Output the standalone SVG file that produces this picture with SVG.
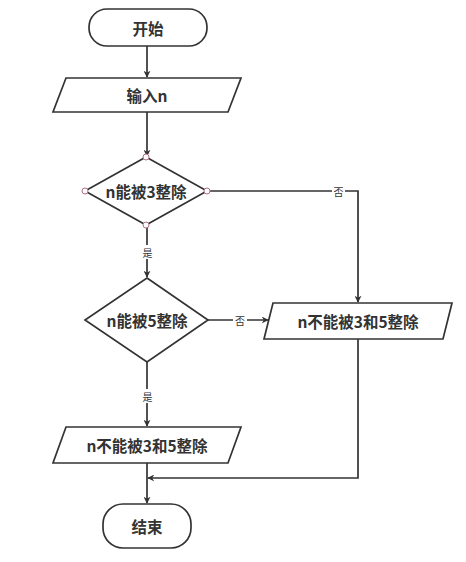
<svg xmlns="http://www.w3.org/2000/svg" width="466" height="562" viewBox="0 0 466 562">
<style>
.s{fill:#fff;stroke:#333;stroke-width:1.7}
.t{font-family:"Noto Sans CJK SC","Noto Sans",sans-serif;font-size:15.5px;font-weight:bold;fill:#333;text-anchor:middle;dominant-baseline:central}
.l{font-family:"Noto Sans CJK SC",sans-serif;font-size:10px;fill:#333;text-anchor:middle;dominant-baseline:central}
.c{fill:none;stroke:#333;stroke-width:1.7}
.p{fill:#fff;stroke:#b07080;stroke-width:1}
</style>
<defs>
<marker id="a" viewBox="0 0 10 10" refX="9" refY="5" markerWidth="7" markerHeight="7" markerUnits="userSpaceOnUse" orient="auto"><path d="M0,0 L10,5 L0,10 L3,5 Z" fill="#333"/></marker>
</defs>
<rect width="466" height="562" fill="#fff"/>
<g id="connectors">
<line class="c" x1="147" y1="46" x2="147" y2="77" marker-end="url(#a)"/>
<line class="c" x1="147" y1="112" x2="147" y2="156" marker-end="url(#a)"/>
<polyline class="c" points="207,191 358,191 358,302" marker-end="url(#a)"/>
<line class="c" x1="147" y1="225" x2="147" y2="277" marker-end="url(#a)"/>
<line class="c" x1="208" y1="320" x2="268" y2="320" marker-end="url(#a)"/>
<line class="c" x1="147" y1="362" x2="147" y2="426" marker-end="url(#a)"/>
<line class="c" x1="147" y1="463" x2="147" y2="503" marker-end="url(#a)"/>
<polyline class="c" points="358,339 358,478 148,478" marker-end="url(#a)"/>
<rect x="332" y="184" width="13" height="14" fill="#fff"/>
<text class="l" x="338.5" y="191">否</text>
<rect x="141" y="245" width="13" height="14" fill="#fff"/>
<text class="l" x="147.5" y="252">是</text>
<rect x="233" y="313" width="14" height="14" fill="#fff"/>
<text class="l" x="240" y="320">否</text>
<rect x="141" y="389" width="13" height="14" fill="#fff"/>
<text class="l" x="147.5" y="396">是</text>
</g>
<g id="start">
<rect class="s" x="89" y="9" width="118" height="37" rx="18" ry="18"/>
<text class="t" x="148" y="27.5">开始</text>
</g>
<g id="input">
<polygon class="s" points="66,78 241,78 228,112 53,112"/>
<text class="t" x="147" y="95">输入n</text>
</g>
<g id="d1">
<polygon class="s" points="146,157 207,191 146,225 85,191"/>
<text class="t" x="146" y="191">n能被3整除</text>
<circle class="p" cx="146" cy="157" r="3"/>
<circle class="p" cx="207" cy="191" r="3"/>
<circle class="p" cx="146" cy="225" r="3"/>
<circle class="p" cx="85" cy="191" r="3"/>
</g>
<g id="d2">
<polygon class="s" points="147,278 208,320 147,362 85,320"/>
<text class="t" x="147" y="320">n能被5整除</text>
</g>
<g id="out1">
<polygon class="s" points="273,303 452,303 443,339 264,339"/>
<text class="t" x="358" y="321">n不能被3和5整除</text>
</g>
<g id="out2">
<polygon class="s" points="66,427 241,427 228,463 53,463"/>
<text class="t" x="147" y="445">n不能被3和5整除</text>
</g>
<g id="end">
<rect class="s" x="103" y="504" width="88" height="44" rx="20" ry="20"/>
<text class="t" x="147" y="526">结束</text>
</g>
</svg>
